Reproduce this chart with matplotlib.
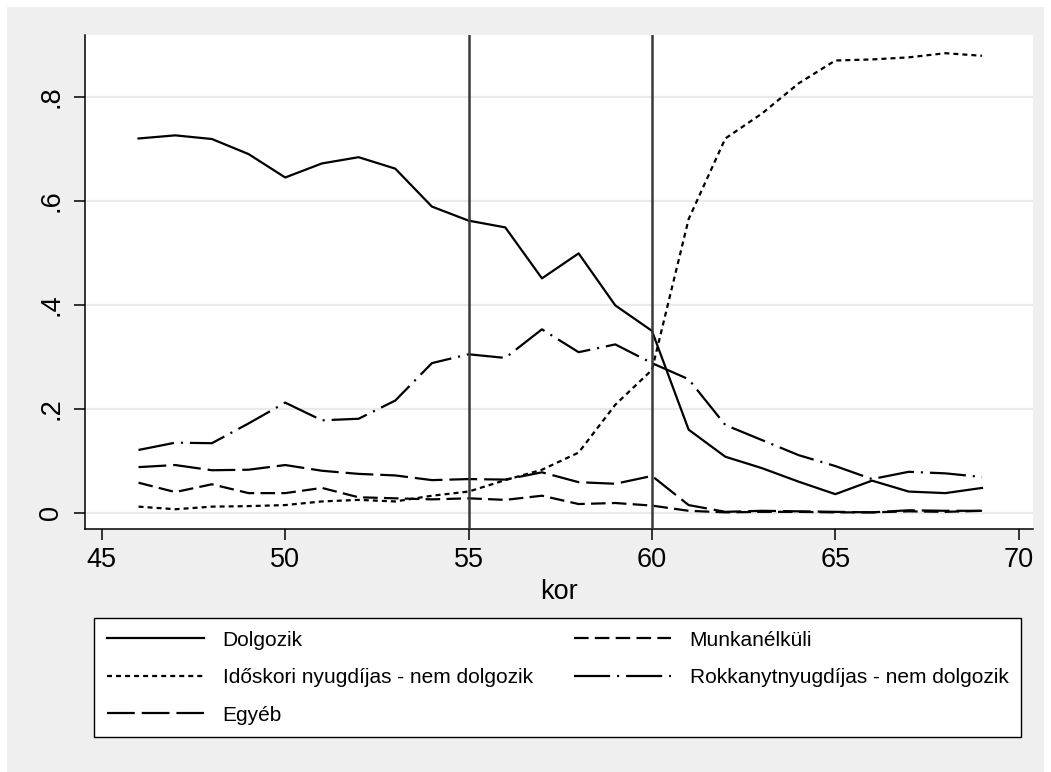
import matplotlib
matplotlib.use("Agg")
import matplotlib.pyplot as plt
from matplotlib.patches import Rectangle

plt.rcParams["font.family"] = ["Liberation Sans", "DejaVu Sans"]
plt.rcParams["lines.scale_dashes"] = False

kor = list(range(46, 70))

dolgozik = [0.720, 0.726, 0.719, 0.690, 0.645, 0.672, 0.684, 0.662, 0.589, 0.562,
            0.549, 0.451, 0.499, 0.399, 0.350, 0.160, 0.108, 0.086, 0.060, 0.036,
            0.062, 0.041, 0.038, 0.048]
munkanelkuli = [0.058, 0.040, 0.055, 0.038, 0.038, 0.048, 0.030, 0.028, 0.026, 0.028,
                0.025, 0.033, 0.017, 0.019, 0.014, 0.004, 0.001, 0.002, 0.002, 0.001,
                0.001, 0.003, 0.002, 0.004]
idoskori = [0.012, 0.007, 0.012, 0.013, 0.015, 0.022, 0.025, 0.022, 0.033, 0.041,
            0.063, 0.083, 0.116, 0.208, 0.275, 0.565, 0.720, 0.768, 0.826, 0.870,
            0.872, 0.876, 0.884, 0.879]
rokkant = [0.121, 0.135, 0.134, 0.172, 0.212, 0.178, 0.181, 0.216, 0.288, 0.305,
           0.298, 0.353, 0.309, 0.324, 0.288, 0.257, 0.169, 0.140, 0.111, 0.090,
           0.065, 0.079, 0.076, 0.069]
egyeb = [0.088, 0.092, 0.082, 0.083, 0.092, 0.081, 0.075, 0.072, 0.063, 0.065,
         0.064, 0.078, 0.059, 0.056, 0.071, 0.015, 0.002, 0.004, 0.003, 0.002,
         0.001, 0.005, 0.004, 0.004]

vlines = [55, 60]
yticks = [0, 0.2, 0.4, 0.6, 0.8]
ytick_labels = ["0", ".2", ".4", ".6", ".8"]
xticks = [45, 50, 55, 60, 65, 70]

W, H = 1051, 772
fig = plt.figure(figsize=(W / 100, H / 100), dpi=100, facecolor="white")
fig.patches.append(Rectangle((7 / W, 0), (W - 14) / W, (H - 7) / H,
                             transform=fig.transFigure, facecolor="#efefef",
                             edgecolor="none", zorder=-10))

ax = fig.add_axes([85 / W, 1 - 529 / H, (1033 - 85) / W, (529 - 35) / H])
ax.set_facecolor("white")

lw = 1.6
h1, = ax.plot(kor, dolgozik, color="black", lw=lw, label="Dolgozik")
h2, = ax.plot(kor, munkanelkuli, color="black", lw=lw, dashes=(10.5, 4.5), label="Munkanélküli")
h3, = ax.plot(kor, idoskori, color="black", lw=lw, dashes=(3.6, 2.9),
              label="Időskori nyugdíjas - nem dolgozik")
h4, = ax.plot(kor, rokkant, color="black", lw=lw, dashes=(26, 5, 1.5, 5),
              label="Rokkanytnyugdíjas - nem dolgozik")
h5, = ax.plot(kor, egyeb, color="black", lw=lw, dashes=(20, 5), label="Egyéb")

for v in vlines:
    ax.axvline(v, color="#3a3a3a", lw=1.8, zorder=3)

ax.set_xlim(44.54, 70.39)
ax.set_ylim(-0.031, 0.919)
ax.set_xticks(xticks)
ax.set_yticks(yticks)
ax.set_yticklabels(ytick_labels, rotation=90, va="center")
ax.grid(axis="y", color="#eaeaea", lw=1.6)
ax.set_axisbelow(True)
for s in ["top", "right"]:
    ax.spines[s].set_visible(False)
for s in ["left", "bottom"]:
    ax.spines[s].set_linewidth(1.1)
ax.tick_params(length=8, width=1.1, labelsize=19.5, pad=5)
ax.tick_params(axis="y", pad=7)
ax.set_xlabel("kor", fontsize=19.5, labelpad=4)

# legend filled column by column -> order so that rows read like the original
handles = [h1, h3, h5, h2, h4]
leg = fig.legend(handles=handles, labels=[h.get_label() for h in handles],
                 loc="upper left",
                 bbox_to_anchor=(94 / W, 1 - 740 / H, (1021 - 94) / W, (740 - 618) / H),
                 ncol=2, mode="expand", fontsize=15, frameon=True, fancybox=False,
                 framealpha=1, edgecolor="black", facecolor="white",
                 handlelength=4.7, handletextpad=0.87,
                 labelspacing=0.89, borderpad=0.6, borderaxespad=0)
leg.get_frame().set_linewidth(1.0)

fig.savefig("out.png", dpi=100, facecolor=fig.get_facecolor())
